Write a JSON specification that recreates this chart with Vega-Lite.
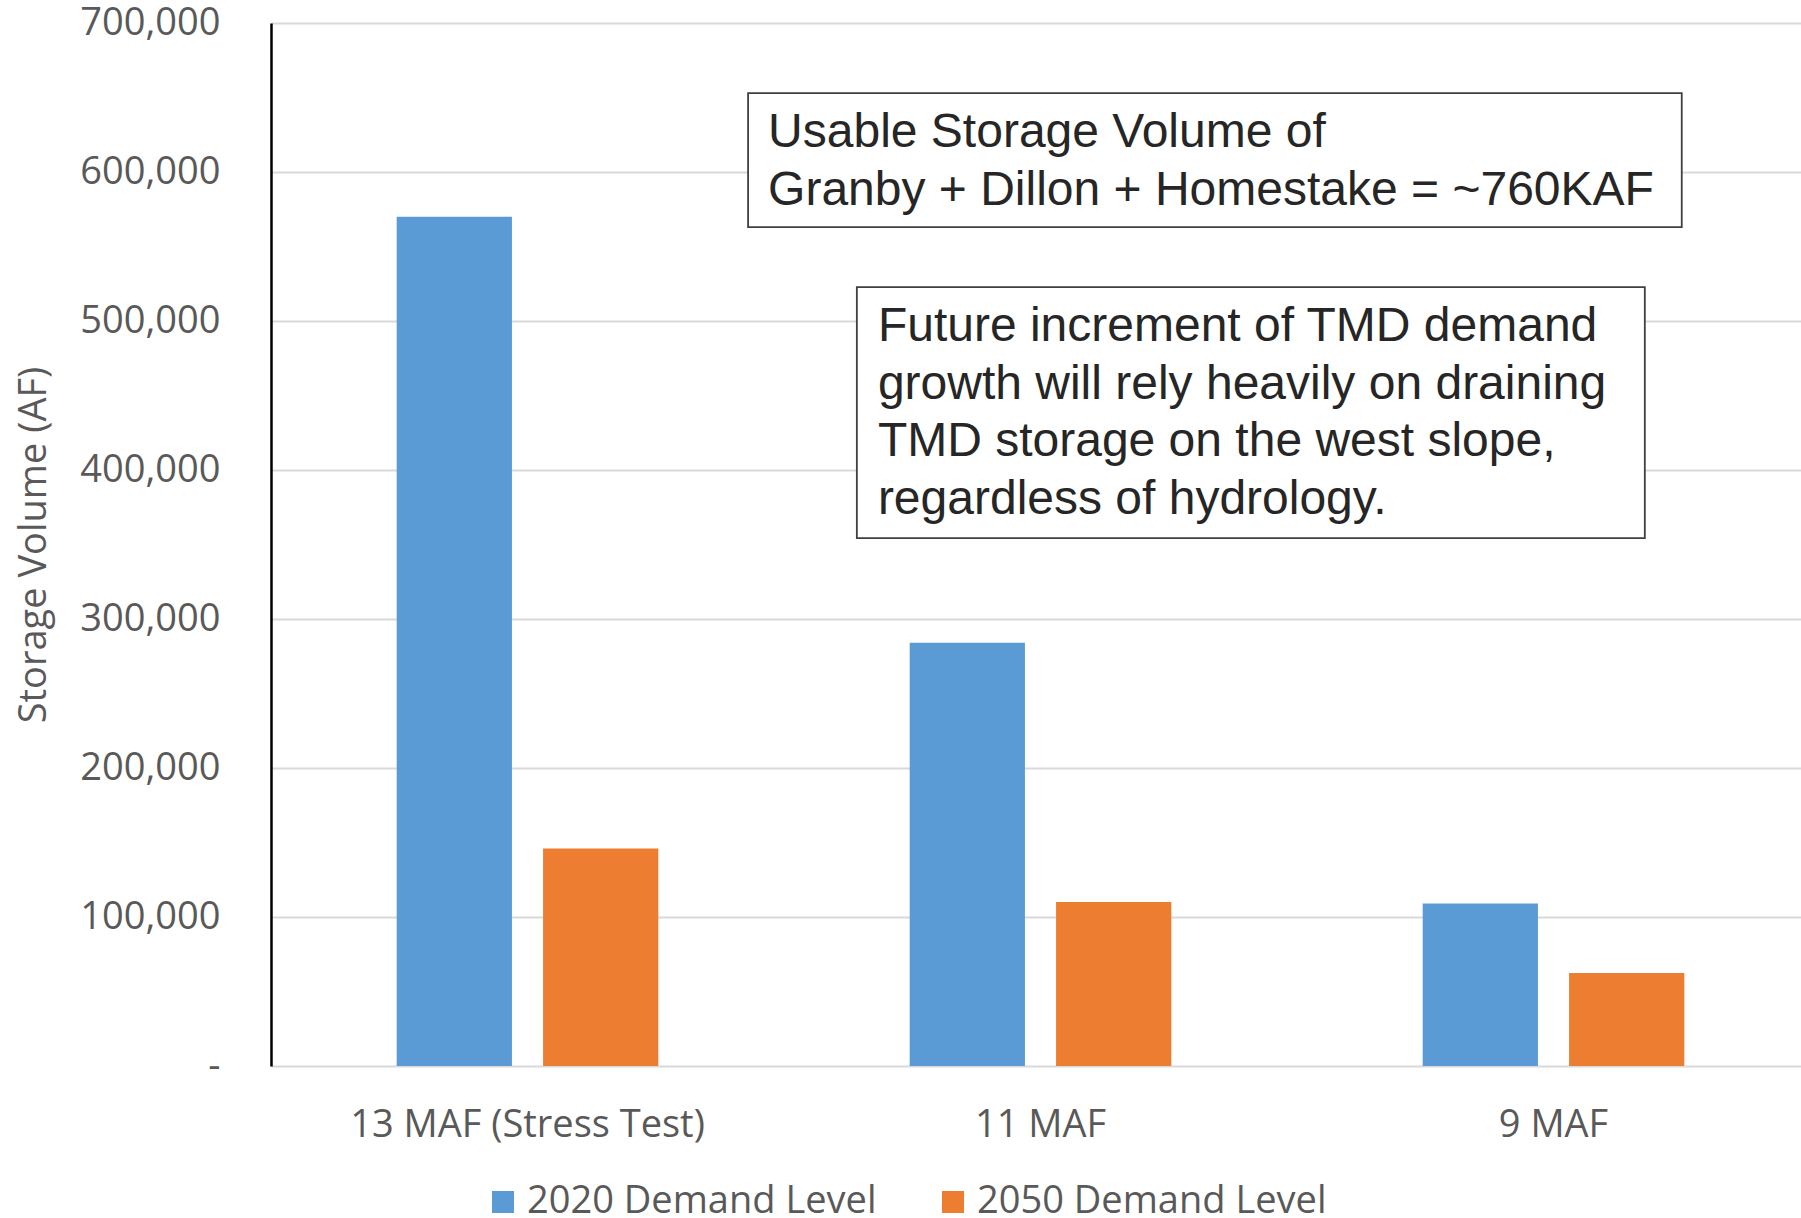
{
  "$schema": "https://vega.github.io/schema/vega-lite/v6.json",
  "width": 1530,
  "height": 1043,
  "autosize": {"type": "none"},
  "padding": {"left": 271, "top": 23, "right": 0, "bottom": 152},
  "background": "white",
  "config": {
    "view": {"stroke": null},
    "font": "Open Sans"
  },
  "datasets": {
    "bars": [
      {"scenario": "13 MAF (Stress Test)", "level": "2020 Demand Level", "storage": 570000},
      {"scenario": "13 MAF (Stress Test)", "level": "2050 Demand Level", "storage": 146000},
      {"scenario": "11 MAF", "level": "2020 Demand Level", "storage": 284000},
      {"scenario": "11 MAF", "level": "2050 Demand Level", "storage": 110000},
      {"scenario": "9 MAF", "level": "2020 Demand Level", "storage": 109000},
      {"scenario": "9 MAF", "level": "2050 Demand Level", "storage": 62500}
    ],
    "boxes": [
      {"note": "usable", "x0": 0.93, "x1": 2.75, "y0": 653000, "y1": 563000},
      {"note": "future", "x0": 1.142, "x1": 2.678, "y0": 522800, "y1": 354300}
    ],
    "lines": [
      {"note": "usable", "x": 0.969, "y": 626100, "text": "Usable Storage Volume of"},
      {"note": "usable", "x": 0.969, "y": 587200, "text": "Granby + Dillon + Homestake = ~760KAF"},
      {"note": "future", "x": 1.183, "y": 495900, "text": "Future increment of TMD demand"},
      {"note": "future", "x": 1.183, "y": 457000, "text": "growth will rely heavily on draining"},
      {"note": "future", "x": 1.183, "y": 418800, "text": "TMD storage on the west slope,"},
      {"note": "future", "x": 1.183, "y": 379900, "text": "regardless of hydrology."}
    ]
  },
  "layer": [
    {
      "data": {"name": "bars"},
      "mark": {"type": "bar"},
      "encoding": {
        "x": {
          "field": "scenario",
          "type": "nominal",
          "sort": null,
          "scale": {"range": [0, 1539], "paddingInner": 0.49, "paddingOuter": 0.245},
          "axis": {
            "title": null,
            "labelAngle": 0,
            "domain": false,
            "ticks": false,
            "labelFontSize": 38,
            "labelColor": "#595959",
            "labelPadding": 40,
            "labelLimit": 0,
            "labelFont": "Open Sans"
          }
        },
        "xOffset": {
          "field": "level",
          "type": "nominal",
          "scale": {"paddingInner": 0.2126, "paddingOuter": 0}
        },
        "y": {
          "field": "storage",
          "type": "quantitative",
          "scale": {"domain": [0, 700000], "nice": false},
          "axis": {
            "title": "Storage Volume (AF)",
            "titleFontSize": 38,
            "titleFontWeight": "normal",
            "titleColor": "#595959",
            "titleFont": "Open Sans",
            "titlePadding": 26,
            "values": [0, 100000, 200000, 300000, 400000, 500000, 600000, 700000],
            "labelExpr": "datum.value == 0 ? '-' : format(datum.value, ',')",
            "labelFontSize": 38,
            "labelColor": "#595959",
            "labelFont": "Open Sans",
            "labelPadding": 51,
            "labelLimit": 0,
            "ticks": false,
            "domainColor": "#000000",
            "domainWidth": 2.5,
            "gridColor": "#d9d9d9",
            "gridWidth": 2
          }
        },
        "color": {
          "field": "level",
          "type": "nominal",
          "scale": {"domain": ["2020 Demand Level", "2050 Demand Level"], "range": ["#5B9BD5", "#ED7D31"]},
          "legend": {
            "title": null,
            "orient": "none",
            "direction": "horizontal",
            "legendX": 213,
            "legendY": 1160,
            "symbolType": "square",
            "symbolSize": 484,
            "symbolStrokeWidth": 0,
            "symbolOpacity": 1,
            "labelFontSize": 38,
            "labelColor": "#595959",
            "labelFont": "Open Sans",
            "labelLimit": 0,
            "labelOffset": 5,
            "columnPadding": 57
          }
        }
      }
    },
    {
      "mark": {"type": "rule", "color": "#000000", "strokeWidth": 2.5},
      "encoding": {"y": {"datum": 700000, "type": "quantitative"}}
    },
    {
      "data": {"name": "boxes"},
      "mark": {"type": "rect", "fill": "white", "stroke": "#404040", "strokeWidth": 1.8},
      "encoding": {
        "x": {"field": "x0", "type": "quantitative", "scale": {"domain": [0, 3], "range": [0, 1539], "nice": false, "zero": false}, "axis": null},
        "x2": {"field": "x1"},
        "y": {"field": "y0", "type": "quantitative"},
        "y2": {"field": "y1"}
      }
    },
    {
      "data": {"name": "lines"},
      "mark": {"type": "text", "align": "left", "baseline": "middle", "font": "Liberation Sans", "fontSize": 48, "color": "#262626"},
      "encoding": {
        "x": {"field": "x", "type": "quantitative", "scale": {"domain": [0, 3], "range": [0, 1539], "nice": false, "zero": false}, "axis": null},
        "y": {"field": "y", "type": "quantitative"},
        "text": {"field": "text"}
      }
    }
  ],
  "resolve": {"scale": {"x": "independent"}}
}
